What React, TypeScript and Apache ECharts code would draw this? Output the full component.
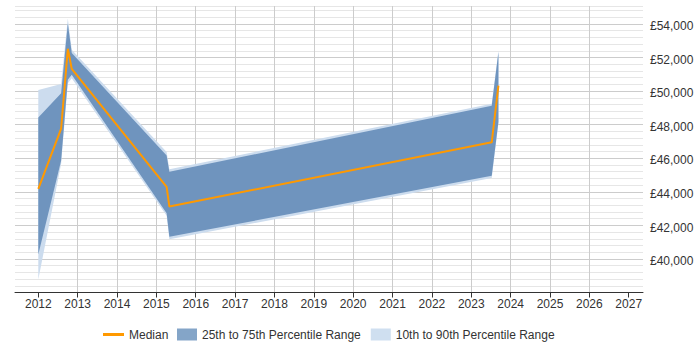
import React, { useEffect, useRef } from 'react';
import * as echarts from 'echarts';

// Time points (fractional years)
const years = [2012.0, 2012.58, 2012.75, 2012.85, 2015.26, 2015.33, 2023.52, 2023.69];
// Salary percentiles (GBP)
const median = [44300, 47900, 52650, 51450, 44420, 43250, 47080, 50450];
const p25 = [40400, 46000, 50800, 51100, 42850, 41450, 45080, 48300];
const p75 = [48550, 50000, 54150, 52400, 46300, 45320, 49250, 52450];
const p10 = [38900, 45800, 50600, 50900, 42700, 41300, 44950, 48200];
const p90 = [50200, 50550, 54450, 52600, 46500, 45470, 49380, 52550];

const yearTicks = [2012, 2013, 2014, 2015, 2016, 2017, 2018, 2019, 2020, 2021, 2022, 2023, 2024, 2025, 2026, 2027];
const salaryTicks = [40000, 42000, 44000, 46000, 48000, 50000, 52000, 54000];

const FONT = 'Liberation Sans, Arial, Helvetica, sans-serif';
const X_MIN = 2011.408;
const X_MAX = 2027.363;
const Y_MIN = 38130;
const Y_MAX = 55200;

const DARK = '#6f94be';
const LIGHT = '#ccdcee';

function bandSeries(name: string, lo: number[], hi: number[], color: string) {
  return {
    type: 'custom',
    name,
    coordinateSystem: 'cartesian2d',
    xAxisIndex: 0,
    yAxisIndex: 1,
    silent: true,
    itemStyle: { color },
    data: years.map((x, i) => [x, lo[i], hi[i]]),
    encode: { x: 0, y: [1, 2] },
    renderItem: (params: any, api: any) => {
      if (params.dataIndex !== 0) return { type: 'group', children: [] };
      const upper = years.map((x, i) => api.coord([x, hi[i]]));
      const lower = years.map((x, i) => api.coord([x, lo[i]])).reverse();
      return {
        type: 'polygon',
        shape: { points: upper.concat(lower) },
        style: { fill: color, stroke: null },
      };
    },
  };
}

export default function App() {
  const ref = useRef<HTMLDivElement>(null);
  useEffect(() => {
    document.body.style.margin = '0';
    if (!ref.current) return;
    const chart = echarts.init(ref.current, undefined, { renderer: 'svg' });
    const legendText = { fontSize: 12, color: '#333333', fontFamily: FONT };
    const option: any = {
      animation: false,
      backgroundColor: '#ffffff',
      textStyle: { fontFamily: FONT },
      grid: { left: 15, right: 57, top: 6, bottom: 57.5, containLabel: false, outerBoundsMode: 'none' },
      legend: [
        {
          left: 103,
          top: 328.5,
          padding: 0,
          itemWidth: 21,
          itemHeight: 3,
          selectedMode: false,
          textStyle: legendText,
          data: [{ name: 'Median', icon: 'rect', itemStyle: { color: '#ff9900' } }],
        },
        {
          left: 177,
          top: 328.5,
          padding: 0,
          itemWidth: 20,
          itemHeight: 12,
          itemGap: 10,
          selectedMode: false,
          textStyle: legendText,
          data: [
            { name: '25th to 75th Percentile Range', icon: 'rect', itemStyle: { color: '#84a5c8' } },
            { name: '10th to 90th Percentile Range', icon: 'rect', itemStyle: { color: '#cfdff0' } },
          ],
        },
      ],
      xAxis: {
        type: 'value',
        min: X_MIN,
        max: X_MAX,
        interval: 1,
        axisLine: { show: true, lineStyle: { color: '#333333', width: 1 } },
        axisTick: { show: true, length: 5, inside: false, customValues: yearTicks, lineStyle: { color: '#333333' } },
        axisLabel: {
          customValues: yearTicks,
          margin: 5,
          fontSize: 12,
          color: '#333333',
          fontFamily: FONT,
          formatter: (v: number) => (Number.isInteger(v) ? String(v) : ''),
        },
        splitLine: { show: true, showMinLine: false, showMaxLine: false, lineStyle: { color: '#cccccc', width: 1 } },
      },
      yAxis: [
        {
          type: 'value',
          position: 'right',
          min: Y_MIN,
          max: Y_MAX,
          interval: 400,
          axisLine: { show: false },
          axisTick: { show: false },
          axisLabel: { show: false },
          splitLine: { show: true, lineStyle: { color: '#e6e6e6', width: 1 } },
        },
        {
          type: 'value',
          position: 'right',
          min: Y_MIN,
          max: Y_MAX,
          interval: 2000,
          axisLine: { show: false },
          axisTick: { show: false },
          axisLabel: {
            customValues: salaryTicks,
            margin: 7,
            fontSize: 12,
            color: '#333333',
            fontFamily: FONT,
            formatter: (v: number) => (v % 2000 === 0 && v >= 40000 ? '£' + v.toLocaleString('en-GB') : ''),
          },
          splitLine: { show: true, showMinLine: false, showMaxLine: false, lineStyle: { color: '#cccccc', width: 1 } },
        },
      ],
      series: [
        bandSeries('10th to 90th Percentile Range', p10, p90, LIGHT),
        bandSeries('25th to 75th Percentile Range', p25, p75, DARK),
        {
          type: 'line',
          name: 'Median',
          xAxisIndex: 0,
          yAxisIndex: 1,
          symbol: 'none',
          showSymbol: false,
          silent: true,
          itemStyle: { color: '#ff9900' },
          lineStyle: { color: '#ff9900', width: 2 },
          data: years.map((x, i) => [x, median[i]]),
          z: 5,
        },
      ],
    };
    chart.setOption(option);
    return () => chart.dispose();
  }, []);
  return <div ref={ref} style={{ width: 700, height: 350 }} />;
}
